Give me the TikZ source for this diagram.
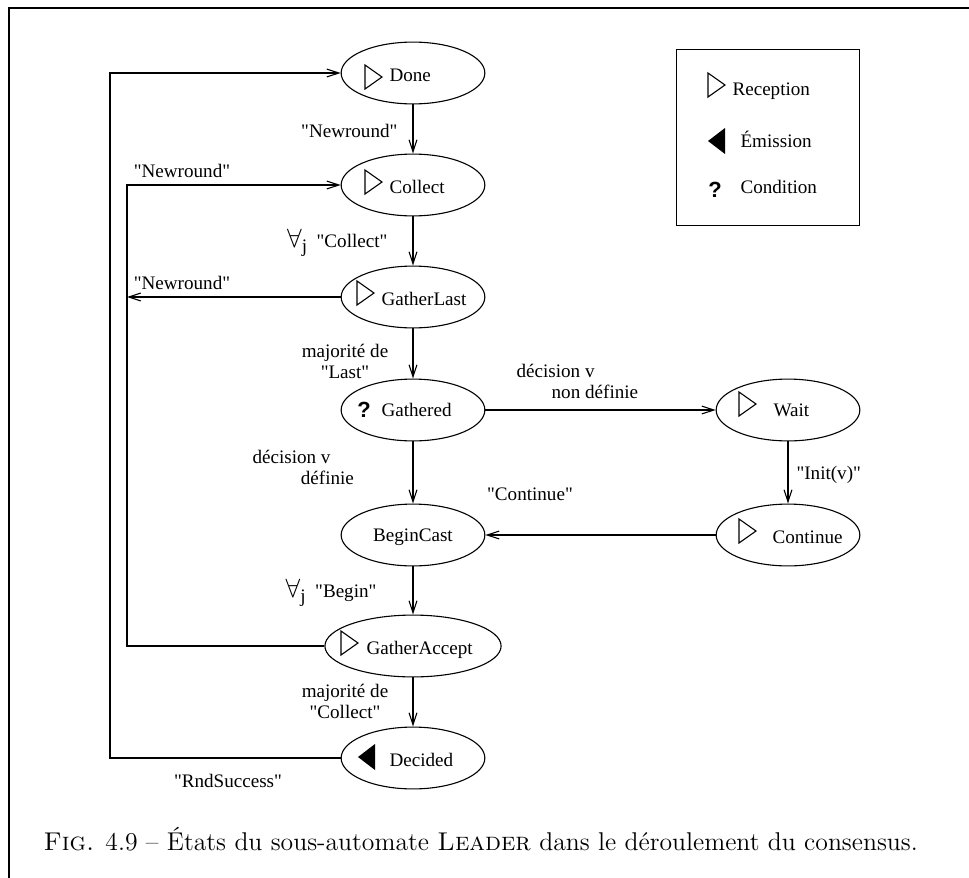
\documentclass[tikz,border=0pt]{standalone}
\usepackage{fontspec}
\newfontfamily\xfigfont{Liberation Serif}
\newfontfamily\xfigsans{Liberation Sans}
\usetikzlibrary{shapes.geometric,arrows.meta,positioning}

\tikzset{
  state/.style={draw, ellipse, minimum width=2.3cm, minimum height=0.99cm, inner sep=0pt},
  lbl/.style={font={\xfigfont\fontsize{8.7}{9.6}\selectfont}, inner sep=0pt},
  trans/.style={-{Straight Barb[length=5.5pt,width=3.6pt]}},
  recv/.pic={\draw (0,-12) -- (0,12) -- (17,0) -- cycle;},
  emit/.pic={\fill (17,-13) -- (17,13) -- (0,0) -- cycle;},
}
\newcommand{\cond}{{\xfigsans\bfseries\fontsize{10}{10}\selectfont ?}}
\newcommand{\forallj}{{\fontsize{13}{13}\selectfont$\forall$}\raisebox{-2.5pt}{j}}

\begin{document}
\begin{tikzpicture}[x=0.016cm, y=-0.016cm, line width=0.5pt]
  \useasboundingbox (0,0) rectangle (969,878);

  % frame (cropped)
  \draw[line width=0.7pt] (9,878) -- (9,8) -- (969,8);

  % states
  \node[state] (done)    at (413,73)  {};
  \node[state] (collect) at (413,185) {};
  \node[state] (gatherlast) at (413,297) {};
  \node[state] (gathered) at (413,410) {};
  \node[state] (wait)    at (788,410) {};
  \node[state] (begincast) at (413,535) {};
  \node[state] (continue) at (788,535) {};
  \node[state, minimum width=2.82cm] (gatheraccept) at (413,646) {};
  \node[state] (decided) at (413,758) {};

  % state names
  \node[lbl, anchor=west] (done-l) at (389,75) {Done};
  \node[lbl, anchor=west] (collect-l) at (389,187) {Collect};
  \node[lbl, anchor=west] (gatherlast-l) at (381,299) {GatherLast};
  \node[lbl, anchor=west] (gathered-l) at (381,410) {Gathered};
  \node[lbl, anchor=west] (wait-l) at (773,410) {Wait};
  \node[lbl] (begincast-l) at (413,537) {BeginCast};
  \node[lbl, anchor=west] (continue-l) at (772,537) {Continue};
  \node[lbl, anchor=west] (gatheraccept-l) at (366,650) {GatherAccept};
  \node[lbl, anchor=west] (decided-l) at (389,760) {Decided};

  % markers
  \pic at (365,77) {recv};
  \pic at (365,182) {recv};
  \pic at (357,293) {recv};
  \node[inner sep=0pt] (gathered-q) at (364,410) {\cond};
  \pic at (739,404) {recv};
  \pic at (739,531) {recv};
  \pic at (341,643) {recv};
  \pic at (358,757) {emit};

  % transitions
  \draw[trans] (done) -- (collect);
  \draw[trans] (collect) -- (gatherlast);
  \draw[trans] (gatherlast) -- (gathered);
  \draw[trans] (gathered) -- (wait);
  \draw[trans] (gathered) -- (begincast);
  \draw[trans] (wait) -- (continue);
  \draw[trans] (continue) -- (begincast);
  \draw[trans] (begincast) -- (gatheraccept);
  \draw[trans] (gatheraccept) -- (decided);

  % loops back
  \coordinate (outer) at (110,758);
  \coordinate (inner) at (127,646);
  \coordinate (innerlast) at (127,297);
  \draw[trans] (decided.west) -- (outer) |- (done.west);
  \draw[trans] (gatheraccept.west) -- (inner) |- (collect.west);
  \draw[trans] (gatherlast.west) -- (innerlast);

  % transition labels
  \node[lbl, anchor=east] (t-newround) at (398,131) {"Newround"};
  \node[lbl] (t-newround2) at (182,171) {"Newround"};
  \node[lbl, anchor=east] (t-collect) at (388,243) {\forallj\ \ "Collect"};
  \node[lbl] (t-newround3) at (182,283) {"Newround"};
  \node[lbl, align=center] (t-last) at (345,361) {majorité de\\"Last"};
  \node[lbl, align=left, anchor=west] (t-nondef) at (516,381) {décision v\\\hspace*{16pt}non définie};
  \node[lbl, align=left, anchor=west] (t-def) at (252,467) {décision v\\\hspace*{22pt}définie};
  \node[lbl, anchor=west] (t-init) at (796,475) {"Init(v)"};
  \node[lbl] (t-continue) at (530,494) {"Continue"};
  \node[lbl, anchor=east] (t-begin) at (377,593) {\forallj\ \ "Begin"};
  \node[lbl, align=center] (t-maj) at (345,701) {majorité de\\"Collect"};
  \node[lbl] (t-success) at (228,781) {"RndSuccess"};

  % legend
  \node[draw, minimum width=2.94cm, minimum height=2.83cm] (legend) at (768,137.5) {};
  \pic at (708,85) {recv};
  \pic at (708,141) {emit};
  \node[inner sep=0pt] (legend-q) at (715,190) {\cond};
  \node[lbl, anchor=west] (legend-recv) at (732,91) {Reception};
  \node[lbl, anchor=west] (legend-emit) at (740,139) {Émission};
  \node[lbl, anchor=west] (legend-cond) at (740,187) {Condition};

  % caption
  \node[anchor=base west, inner sep=0pt, font=\fontsize{11.7}{14}\selectfont] (caption) at (43,850)
    {\textsc{Fig.} 4.9 -- États du sous-automate \textsc{Leader} dans le déroulement du consensus.};
\end{tikzpicture}
\end{document}
